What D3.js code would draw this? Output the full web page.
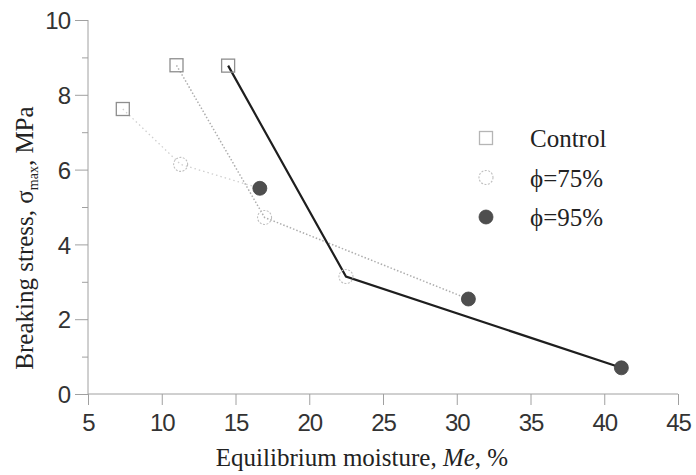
<!DOCTYPE html>
<html>
<head>
<meta charset="utf-8">
<script src="https://cdn.jsdelivr.net/npm/d3@7"></script>
<style>
  html, body { margin: 0; padding: 0; background: #fff; }
  svg { display: block; }
</style>
</head>
<body>
<svg id="chart" width="696" height="475"></svg>
<script>
// ---- data ----
const categories = ["Control", "\u03D5=75%", "\u03D5=95%"];
const controlX = [7.36, 11.0, 14.5];
const controlY = [7.62, 8.79, 8.78];
const rh75X = [11.28, 16.97, 22.49];
const rh75Y = [6.14, 4.72, 3.14];
const rh95X = [16.65, 30.79, 41.16];
const rh95Y = [5.5, 2.54, 0.70];
const xTicks = [5, 10, 15, 20, 25, 30, 35, 40, 45];
const yTicks = [0, 2, 4, 6, 8, 10];
const yMinorTicks = [1, 3, 5, 7, 9];

(function () {
// ---- layout ----
const svg = d3.select("#chart");
const pLeft = 88, pRight = 678, pTop = 20, pBottom = 394;
const x = d3.scaleLinear().domain([5, 45]).range([pLeft, pRight]);
const y = d3.scaleLinear().domain([0, 10]).range([pBottom, pTop]);

const serif = "'Liberation Serif','Times New Roman',serif";
const sans = "'Liberation Sans',Arial,sans-serif";
const axisColor = "#a0a0a0";

// axes
const xAxis = svg.append("g").attr("transform", `translate(0,${pBottom})`)
  .call(d3.axisBottom(x).tickValues(xTicks).tickSize(11).tickPadding(9).tickFormat(d3.format("d")));
const yAxis = svg.append("g").attr("transform", `translate(${pLeft},0)`)
  .call(d3.axisLeft(y).tickValues(yTicks).tickSize(13).tickPadding(5).tickFormat(d3.format("d")));
const yMinor = svg.append("g").attr("transform", `translate(${pLeft},0)`)
  .call(d3.axisLeft(y).tickValues(yMinorTicks).tickSize(6).tickFormat(""));
yMinor.select(".domain").remove();

[xAxis, yAxis, yMinor].forEach(g => {
  g.selectAll("path.domain").attr("stroke", axisColor).attr("stroke-width", 1);
  g.selectAll(".tick line").attr("stroke", axisColor).attr("stroke-width", 1);
  g.selectAll(".tick text").attr("fill", "#333").style("font-family", sans).style("font-size", "24px");
});
xAxis.selectAll(".tick text").attr("dy", "0.71em").attr("transform", "scale(0.88,1)")
  .each(function () {
    const t = d3.select(this.parentNode).attr("transform");
  });
// compensate horizontal compression: place labels via their tick group
xAxis.selectAll(".tick text").attr("transform", null).style("letter-spacing", "-1px");
yAxis.selectAll(".tick text").attr("dy", "0.36em").style("letter-spacing", "-1px");
xAxis.select(".domain").attr("d", `M${pLeft},0H${pRight}`);
yAxis.select(".domain").attr("d", `M0,${pTop}V${pBottom}`);

// ---- connecting lines (one per sample across conditions) ----
const lineStyles = [
  { stroke: "#cfcfcf", width: 1.3, dash: "1.5,3" },
  { stroke: "#adadad", width: 1.5, dash: "1.5,2" },
  { stroke: "#1e1e1e", width: 2.2, dash: null }
];
const line = d3.line().x(d => x(d[0])).y(d => y(d[1]));
controlX.forEach((_, i) => {
  const pts = [[controlX[i], controlY[i]], [rh75X[i], rh75Y[i]], [rh95X[i], rh95Y[i]]];
  const st = lineStyles[i];
  svg.append("path").datum(pts).attr("d", line)
    .attr("fill", "none").attr("stroke", st.stroke).attr("stroke-width", st.width)
    .attr("stroke-dasharray", st.dash);
});

// ---- markers ----
function drawSquare(g, cx, cy, light) {
  g.append("rect").attr("x", cx - 6.5).attr("y", cy - 6.5).attr("width", 13).attr("height", 13)
    .attr("fill", "none").attr("stroke", light ? "#b5b5b5" : "#8e8e8e").attr("stroke-width", 1.3);
}
function drawOpenCircle(g, cx, cy) {
  g.append("circle").attr("cx", cx).attr("cy", cy).attr("r", 7)
    .attr("fill", "none").attr("stroke", "#c0c0c0").attr("stroke-width", 1.1)
    .attr("stroke-dasharray", "2,1.5");
}
function drawFilledCircle(g, cx, cy) {
  g.append("circle").attr("cx", cx).attr("cy", cy).attr("r", 7)
    .attr("fill", "#4e4e4e").attr("stroke", "#444").attr("stroke-width", 0.8);
}
const marks = svg.append("g");
controlX.forEach((v, i) => drawSquare(marks, x(v), y(controlY[i]), false));
rh75X.forEach((v, i) => drawOpenCircle(marks, x(v), y(rh75Y[i])));
rh95X.forEach((v, i) => drawFilledCircle(marks, x(v), y(rh95Y[i])));

// ---- legend ----
const drawers = [drawSquare, drawOpenCircle, drawFilledCircle];
const legend = svg.append("g");
categories.forEach((c, i) => {
  const cy = 138 + i * 39.5;
  drawers[i](legend, 486, cy, true);
  legend.append("text").attr("x", 530).attr("y", cy + 9)
    .style("font-family", serif).style("font-size", "25px").attr("fill", "#222").text(c);
});

// ---- axis titles ----
const xt = svg.append("text").attr("x", 362).attr("y", 466).attr("text-anchor", "middle")
  .style("font-family", serif).style("font-size", "25px").attr("fill", "#222");
xt.append("tspan").text("Equilibrium moisture, ");
xt.append("tspan").style("font-style", "italic").text("Me");
xt.append("tspan").text(", %");

const yt = svg.append("text").attr("transform", "translate(33,238) rotate(-90)")
  .attr("text-anchor", "middle")
  .style("font-family", serif).style("font-size", "25px").attr("fill", "#222");
yt.append("tspan").text("Breaking stress, \u03C3");
yt.append("tspan").attr("dy", 5).style("font-size", "14px").text("max");
yt.append("tspan").attr("dy", -5).text(", MPa");
})();
</script>
</body>
</html>
